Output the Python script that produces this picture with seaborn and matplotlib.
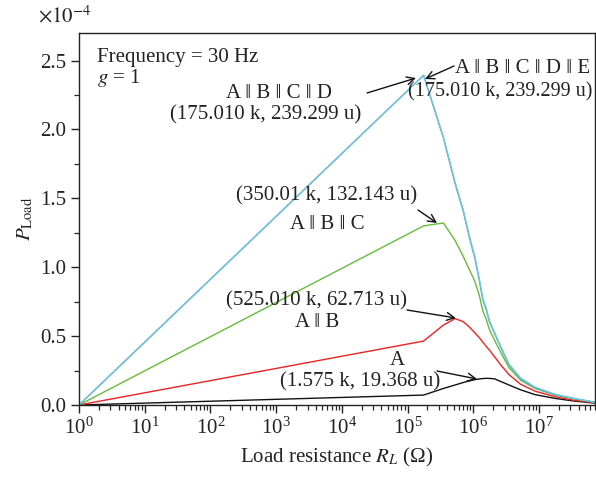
import numpy as np
import pandas as pd
import seaborn as sns
import matplotlib
matplotlib.use("Agg")
import matplotlib.pyplot as plt
from matplotlib.ticker import LogLocator, MultipleLocator, NullFormatter, FormatStrFormatter

# ---- data (R in kOhm, P in microwatt) ----
R_kohm = [0.001, 175.01, 350.01, 525.01, 700.01, 875.01, 1050.01, 1225.01, 1400.01,
          1575.01, 1750.01, 2100.01, 2625.01, 3500.01, 5250.01, 8750.01, 17500.01,
          35000.01, 70000.01]
P_A = [0.0, 7.2, 12.0, 14.5, 16.3, 17.5, 18.4, 18.9, 19.2, 19.368, 19.3, 19.0, 17.0,
       14.5, 11.0, 7.5, 4.8, 2.8, 1.4]
P_AB = [0.0, 46.4, 58.0, 62.713, 60.5, 56.5, 52.5, 49.0, 45.5, 42.5, 40.0, 35.0, 29.0,
        22.0, 15.0, 10.0, 6.0, 3.3, 1.8]
P_ABC = [0.0, 130.0, 132.143, 119.6, 108.0, 98.0, 90.0, 80.0, 68.0, 62.0, 55.0, 47.0,
         38.0, 27.0, 18.0, 12.0, 7.2, 4.3, 2.0]
P_ABCD = [0.0, 239.299, 194.0, 161.0, 141.0, 121.0, 107.0, 91.0, 76.0, 69.0, 60.5, 52.0,
          41.5, 29.0, 19.0, 12.5, 7.5, 4.5, 2.0]
P_ABCDE = [0.0, 239.299, 194.5, 161.8, 141.8, 122.0, 108.0, 92.0, 77.0, 70.0, 61.3, 52.8,
           42.2, 29.6, 19.5, 12.9, 7.8, 4.7, 2.1]

configs = ["A", "A‖B", "A‖B‖C", "A‖B‖C‖D", "A‖B‖C‖D‖E"]
series = [P_A, P_AB, P_ABC, P_ABCD, P_ABCDE]
colors = ["#111111", "#ee2222", "#66bb3a", "#4aa6cf", "#74c3dc"]

rows = []
for cfg, vals in zip(configs, series):
    for r, p in zip(R_kohm, vals):
        rows.append({"R": r * 1e3, "P": p * 1e-2, "config": cfg})  # P in units of 1e-4 W
df = pd.DataFrame(rows)

sns.set_theme(style="ticks")
plt.rcParams["font.family"] = ["Liberation Serif", "DejaVu Serif"]
plt.rcParams["mathtext.fontset"] = "stix"

W, H = 596, 483
fig = plt.figure(figsize=(W / 100, H / 100), dpi=100)
L, Rr, T, B = 79, 595, 33, 405
ax = fig.add_axes([L / W, 1 - B / H, (Rr - L) / W, (B - T) / H])

sns.lineplot(data=df, x="R", y="P", hue="config", hue_order=configs,
             palette=dict(zip(configs, colors)), estimator=None, sort=False,
             legend=False, ax=ax, linewidth=1.0)

ax.set_xscale("log")
ax.set_xlim(1, 7.1e7)
ax.set_ylim(0, 2.7)
ax.xaxis.set_major_locator(LogLocator(base=10, numticks=20))
ax.xaxis.set_minor_locator(LogLocator(base=10, subs=np.arange(2, 10), numticks=100))
ax.xaxis.set_minor_formatter(NullFormatter())
ax.yaxis.set_major_locator(MultipleLocator(0.5))
ax.yaxis.set_minor_locator(MultipleLocator(0.25))
ax.yaxis.set_major_formatter(FormatStrFormatter("%.1f"))

fs = 15
ax.tick_params(which="major", direction="out", length=6, width=1, labelsize=fs,
               colors="#222222", pad=3)
ax.tick_params(which="minor", direction="out", length=3.5, width=0.9)
for s in ax.spines.values():
    s.set_linewidth(1.0)
    s.set_color("#222222")

ax.set_xlabel("Load resistance $R_L$ (Ω)", fontsize=fs, color="#222222", labelpad=5)
ax.set_ylabel(r"$P_{\mathrm{Load}}$", fontsize=fs, color="#222222", labelpad=4)


def fx(px):
    return px / W


def fy(py):
    return 1 - py / H


tc = "#222222"
fig.text(fx(38), fy(22), r"$\times10^{-4}$", fontsize=fs, color=tc, ha="left", va="baseline")
fig.text(fx(97), fy(62), "Frequency = 30 Hz", fontsize=fs, color=tc, ha="left", va="baseline")
fig.text(fx(97), fy(83), "$g$ = 1", fontsize=fs, color=tc, ha="left", va="baseline")

labels = [
    (279, 98, "A ‖ B ‖ C ‖ D", fs), (266, 119, "(175.010 k, 239.299 u)", fs),
    (523, 73, "A ‖ B ‖ C ‖ D ‖ E", fs), (500, 96, "(175.010 k, 239.299 u)", 14.5),
    (327, 200, "(350.01 k, 132.143 u)", fs), (327, 229, "A ‖ B ‖ C", fs),
    (317, 305, "(525.010 k, 62.713 u)", fs), (317, 327, "A ‖ B", fs),
    (397, 365, "A", fs), (360, 386, "(1.575 k, 19.368 u)", fs),
]
for x, y, s, f in labels:
    fig.text(fx(x), fy(y), s, fontsize=f, color=tc, ha="center", va="baseline")

arrows = [((367, 93), (416, 78)), ((454, 66), (425, 79)), ((418, 210), (437, 223)),
          ((407, 310), (456, 318)), ((437, 371), (477, 379))]
for (x0, y0), (x1, y1) in arrows:
    ax.annotate("", xy=(fx(x1), fy(y1)), xycoords="figure fraction",
                xytext=(fx(x0), fy(y0)), textcoords="figure fraction",
                arrowprops=dict(arrowstyle="->", lw=1.0, color="#111111",
                                shrinkA=0, shrinkB=0, mutation_scale=14))

fig.savefig("out.png", dpi=100)
